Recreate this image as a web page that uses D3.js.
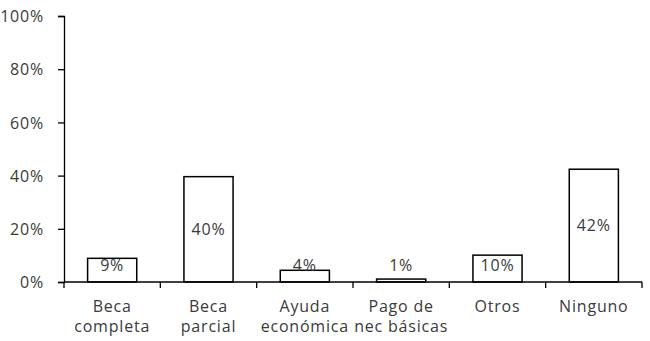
<!DOCTYPE html>
<html>
<head>
<meta charset="utf-8">
<script src="https://cdn.jsdelivr.net/npm/d3@7"></script>
<style>
  body { margin: 0; background: #fff; }
  text { font-family: "Open Sans", sans-serif; font-size: 16px; fill: #3a3a3a; letter-spacing: 0.8px; }
</style>
</head>
<body>
<div id="chart"></div>
<script>
// Data
const categories = [["Beca", "completa"], ["Beca", "parcial"], ["Ayuda", "económica"],
                    ["Pago de", "nec básicas"], ["Otros"], ["Ninguno"]];
const values = [8.9, 39.6, 4.4, 1.1, 10.1, 42.4];
const yTicks = [0, 20, 40, 60, 80, 100];

const W = 650, H = 341;
const margin = { top: 16, right: 8, bottom: 59, left: 64 },
      width = W - margin.left - margin.right,
      height = H - margin.top - margin.bottom;

const svg = d3.select("#chart")
  .append("svg")
  .attr("width", W)
  .attr("height", H)
  .append("g")
  .attr("transform", `translate(${margin.left},${margin.top})`);

const x = d3.scaleBand()
  .domain(d3.range(categories.length))
  .range([0, width])
  .paddingInner(0.49)
  .paddingOuter(0.245);

const step = x.step();

const y = d3.scaleLinear()
  .domain([0, 100])
  .range([height, 0]);

// y axis
const yAxis = svg.append("g")
  .call(d3.axisLeft(y).tickValues(yTicks).tickSize(6).tickPadding(14).tickFormat(d => d + "%"));
yAxis.select(".domain").attr("stroke", "#000").attr("stroke-width", 1.3);
yAxis.selectAll(".tick line").attr("stroke", "#000").attr("stroke-width", 1.3);
yAxis.selectAll("text").attr("font-size", null).attr("font-family", null).attr("fill", null).attr("dy", "0.35em");

// bars
svg.selectAll(".bar")
  .data(values)
  .enter()
  .append("rect")
  .attr("class", "bar")
  .attr("x", (d, i) => x(i))
  .attr("y", d => y(d))
  .attr("width", x.bandwidth())
  .attr("height", d => y(0) - y(d))
  .attr("fill", "#fff")
  .attr("stroke", "#000")
  .attr("stroke-width", 1.5);

// value labels
svg.selectAll(".lbl")
  .data(values)
  .enter()
  .append("text")
  .attr("class", "lbl")
  .attr("x", (d, i) => x(i) + x.bandwidth() / 2)
  .attr("y", d => Math.min((y(d) + y(0)) / 2, y(0) - 17))
  .attr("dy", "0.35em")
  .attr("text-anchor", "middle")
  .text(d => Math.round(d) + "%");

// x axis (ticks at category boundaries)
const xa = svg.append("g").attr("transform", `translate(0,${height})`);
xa.append("line").attr("x1", 0).attr("x2", width).attr("stroke", "#000").attr("stroke-width", 1.3);
xa.selectAll(".xt")
  .data(d3.range(categories.length + 1))
  .enter()
  .append("line")
  .attr("x1", i => i * step).attr("x2", i => i * step)
  .attr("y1", 0).attr("y2", 6)
  .attr("stroke", "#000").attr("stroke-width", 1.3);

const cl = xa.selectAll(".cat")
  .data(categories)
  .enter()
  .append("text")
  .attr("class", "cat")
  .attr("text-anchor", "middle")
  .attr("x", (d, i) => x(i) + x.bandwidth() / 2)
  .attr("y", 30);
cl.selectAll("tspan")
  .data(d => d)
  .enter()
  .append("tspan")
  .attr("x", function () { return d3.select(this.parentNode).attr("x"); })
  .attr("dy", (d, i) => i === 0 ? 0 : 20)
  .text(d => d);
</script>
</body>
</html>
